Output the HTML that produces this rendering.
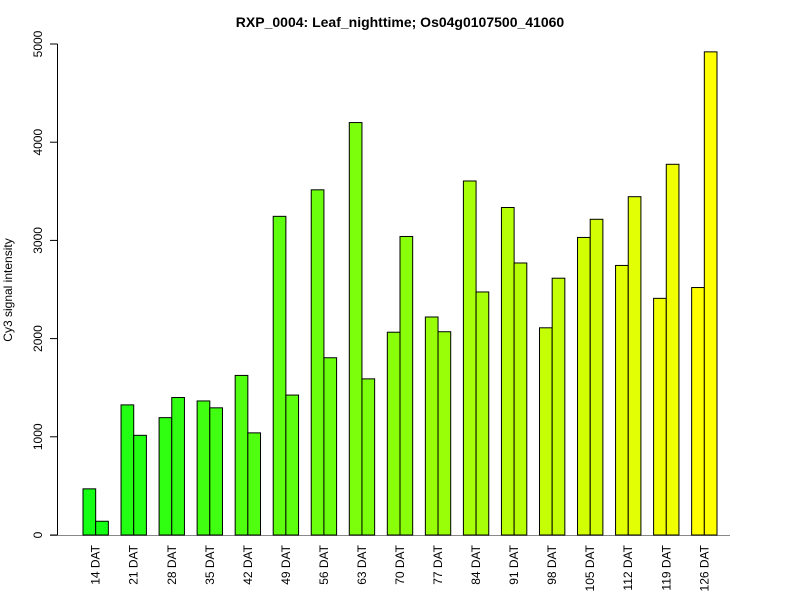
<!DOCTYPE html>
<html><head><meta charset="utf-8"><style>
body{margin:0;background:#fff;font-family:"Liberation Sans",sans-serif}
</style></head><body>
<svg id="chart" width="800" height="600" xmlns="http://www.w3.org/2000/svg">
<text x="400" y="27" text-anchor="middle" font-weight="bold" font-size="14">RXP_0004: Leaf_nighttime; Os04g0107500_41060</text>
<text transform="translate(12,290) rotate(-90)" text-anchor="middle" font-size="12">Cy3 signal intensity</text>
<g id="axes"></g>
<g id="bars"></g>
</svg>
<script>
const categories=["14 DAT","21 DAT","28 DAT","35 DAT","42 DAT","49 DAT","56 DAT","63 DAT","70 DAT","77 DAT","84 DAT","91 DAT","98 DAT","105 DAT","112 DAT","119 DAT","126 DAT"];
const series1=[470,1325,1195,1365,1625,3245,3515,4200,2065,2220,3605,3335,2110,3030,2745,2410,2520];
const series2=[140,1015,1400,1295,1040,1425,1805,1590,3040,2070,2475,2770,2615,3215,3445,3775,4920];
const yTicks=[0,1000,2000,3000,4000,5000];
const NS="http://www.w3.org/2000/svg";
const y0=535, ky=(535-44)/5000, unit=12.68, x0=83;
function yS(v){return y0-v*ky;}
function xS(g,k){return x0+(g*3+k)*unit;}
function mk(t,a,p){const e=document.createElementNS(NS,t);for(const k in a)e.setAttribute(k,a[k]);p.appendChild(e);return e;}
const ax=document.getElementById('axes'), bg=document.getElementById('bars');
const yl=mk('line',{x1:57.5,x2:57.5,y1:yS(0),y2:yS(5000),stroke:'#000'},ax);


const bl=mk('line',{x1:50,x2:730,y1:535.5,y2:535.5,stroke:'#888'},ax);


yTicks.forEach(v=>{
 const t=mk('line',{x1:50,x2:57.5,y1:yS(v),y2:yS(v),stroke:'#000'},ax);
 
 
 const l=mk('text',{transform:`translate(42,${yS(v)}) rotate(-90)`,'text-anchor':'middle','font-size':'12'},ax);
 l.textContent=v;
 
 
});
categories.forEach((c,i)=>{
 const r=Math.round(20+i*235/16), b=Math.round(20*(1-i/16));
 const col=`rgb(${r},255,${b})`;
 [series1[i],series2[i]].forEach((v,k)=>{
  const rc=mk('rect',{x:xS(i,k),y:yS(v),width:unit,height:yS(0)-yS(v),fill:col,stroke:'#000','stroke-width':1},bg);
  
  
 });
 const cx=xS(i,1);
 const l=mk('text',{transform:`translate(${cx+4},545) rotate(-90)`,'text-anchor':'end','font-size':'12'},ax);
 l.textContent=c;
 
 
});
</script>
</body></html>
